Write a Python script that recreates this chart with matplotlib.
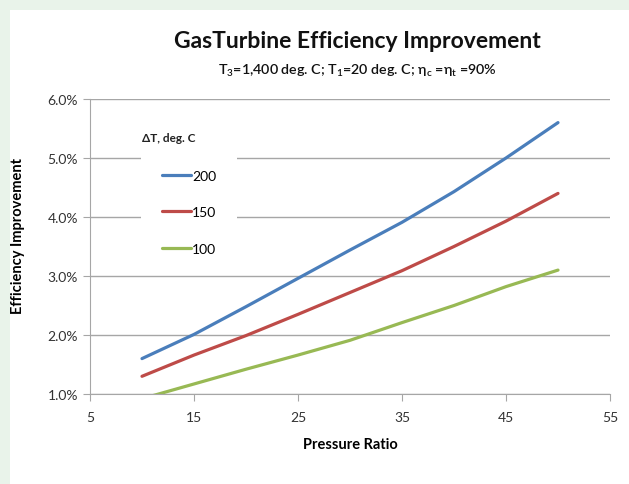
import matplotlib
matplotlib.use("Agg")
import matplotlib.pyplot as plt
from matplotlib.ticker import FuncFormatter

plt.rcParams['font.family'] = ['Lato', 'DejaVu Sans']
plt.rcParams['mathtext.default'] = 'regular'

# values (efficiency improvement in %)
pressure_ratio = [10, 15, 20, 25, 30, 35, 40, 45, 50]
dt_200 = [1.60, 2.01, 2.48, 2.96, 3.44, 3.91, 4.43, 5.00, 5.60]
dt_150 = [1.30, 1.66, 1.99, 2.35, 2.72, 3.09, 3.50, 3.93, 4.40]
dt_100 = [0.92, 1.17, 1.42, 1.66, 1.91, 2.21, 2.50, 2.82, 3.10]
labels = ['200', '150', '100']

x_ticks = [5, 15, 25, 35, 45, 55]
y_ticks = [1, 2, 3, 4, 5, 6]

fig = plt.figure(figsize=(6.29, 4.85), dpi=100)
fig.patch.set_facecolor('#e9f3ea')
# white panel inset from the top/left edge
fig.add_artist(plt.Rectangle((10 / 629, 0), 1, 1 - 11 / 485, transform=fig.transFigure,
                             facecolor='white', edgecolor='none', zorder=0))

ax = fig.add_axes([90 / 629, 1 - 395 / 485, 520 / 629, 295 / 485])
ax.set_facecolor('white')

ax.plot(pressure_ratio, dt_200, color='#4a7ebb', lw=2.3, label=labels[0], solid_capstyle='round')
ax.plot(pressure_ratio, dt_150, color='#be4b48', lw=2.3, label=labels[1], solid_capstyle='round')
ax.plot(pressure_ratio, dt_100, color='#98b954', lw=2.3, label=labels[2], solid_capstyle='round')

ax.set_xlim(5, 55)
ax.set_ylim(1, 6)
ax.set_xticks(x_ticks)
ax.set_yticks(y_ticks)
ax.yaxis.set_major_formatter(FuncFormatter(lambda v, p: '%.1f%%' % v))

grid_c = '#a6a6a6'
ax.yaxis.grid(True, color=grid_c, lw=1)
ax.set_axisbelow(True)
for s in ['top', 'right']:
    ax.spines[s].set_visible(False)
ax.spines['left'].set_color(grid_c)
ax.spines['bottom'].set_color(grid_c)
ax.tick_params(axis='both', direction='out', length=5, color=grid_c,
               labelsize=10, labelcolor='#333333')
ax.tick_params(axis='x', pad=7)

ax.set_xlabel('Pressure Ratio', fontsize=10.5, fontweight='bold', labelpad=10)
ax.set_ylabel('Efficiency Improvement', fontsize=10.5, fontweight='bold', labelpad=8)
ax.yaxis.set_label_coords(-0.125, 0.54)

leg = ax.legend(loc='upper left', bbox_to_anchor=(0.098, 0.830), borderaxespad=0,
                fontsize=10, frameon=True, facecolor='white', edgecolor='none', framealpha=1,
                handlelength=2.1, handletextpad=0.1, labelspacing=1.75, borderpad=1.5)
leg.get_frame().set_boxstyle('square', pad=0)

ax.text((142 - 90) / 520, (395 - 138) / 295, '\u0394T, deg. C', transform=ax.transAxes,
        fontsize=8.5, fontweight='bold', color='#222222', va='center', ha='left',
        bbox=dict(facecolor='white', edgecolor='none', pad=8), zorder=6)

fig.text(357 / 629, 1 - 41 / 485, 'GasTurbine Efficiency Improvement', ha='center', va='center',
         fontsize=16.5, fontweight='bold', color='#111111')
fig.text(357 / 629, 1 - 71 / 485, r'T$_3$=1,400 deg. C; T$_1$=20 deg. C; $\eta_c$ =$\eta_t$ =90%',
         ha='center', va='center', fontsize=10.3, fontweight='semibold', color='#111111')

fig.savefig('out.png', dpi=100, facecolor=fig.get_facecolor())
